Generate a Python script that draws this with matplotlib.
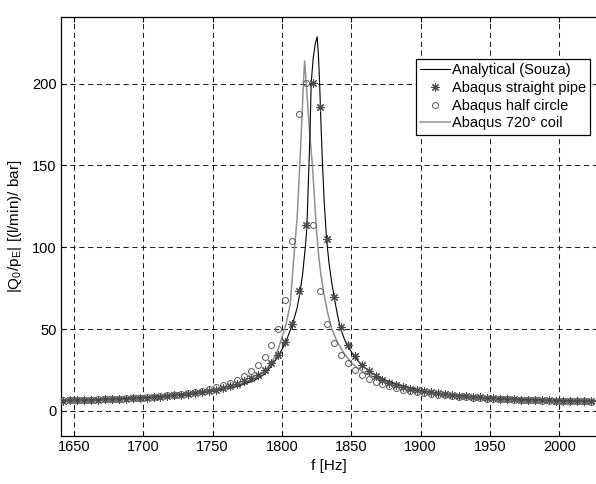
import matplotlib
matplotlib.use("Agg")
import matplotlib.pyplot as plt
from matplotlib.lines import Line2D

plt.rcParams['font.family'] = ['Liberation Sans', 'DejaVu Sans']
plt.rcParams['mathtext.fontset'] = 'custom'
plt.rcParams['mathtext.rm'] = 'Liberation Sans'

# Analytical (Souza) curve
f_ana = [1640, 1660, 1680, 1700, 1720, 1740, 1750, 1760, 1770, 1780, 1787.5,
         1792.5, 1797.5, 1802.5, 1807.5, 1811, 1813, 1815, 1817, 1818,
         1819.5, 1820.3, 1821.1, 1822.5, 1824, 1825.4, 1826.3, 1827.2,
         1828.2, 1829.3, 1830.5, 1832.2, 1834, 1836, 1838, 1840, 1842,
         1845, 1848, 1852, 1857.5, 1865, 1875, 1885, 1900, 1920, 1940,
         1960, 1980, 2000, 2027]
v_ana = [6.3, 6.7, 7.3, 8.0, 9.2, 10.8, 12.0, 13.6, 15.6, 18.6, 22.5,
         27.5, 33.5, 41.5, 52.5, 63, 72, 84, 101, 112,
         150, 170, 200, 215, 224, 228.6, 218, 200,
         175, 150, 128, 105, 90, 78, 68, 59, 51,
         44, 39, 33.5, 28, 23, 18.8, 15.8, 12.5, 10.0, 8.5,
         7.5, 6.9, 6.4, 6.0]

# Abaqus 720 deg coil curve
f_coil = [1640, 1660, 1680, 1700, 1720, 1740, 1750, 1760, 1770, 1780, 1785,
          1790, 1795, 1797.5, 1800, 1803, 1806, 1809.2, 1811, 1812.9,
          1814.5, 1815.5, 1816.4, 1817.6, 1819, 1820.5, 1822, 1823.5,
          1825, 1826.5, 1828, 1830, 1833, 1836, 1840, 1845, 1850, 1855,
          1860, 1870, 1880, 1890, 1900, 1920, 1940, 1960, 1980, 2000, 2027]
v_coil = [6.4, 6.9, 7.5, 8.3, 9.6, 11.4, 12.6, 14.2, 16.4, 19.8, 22.5,
          26.5, 33, 38, 45, 53, 65, 100, 118, 150,
          180, 200, 213.9, 200, 182, 165, 150, 130,
          110, 95, 84, 73, 60, 50, 42, 35, 29.5, 26,
          23.2, 19.2, 16.3, 14.2, 12.6, 10.2, 8.7, 7.7, 7.0, 6.5, 6.1]

# Abaqus markers, every 5 Hz
f_mark = [1642.5 + 5 * i for i in range(77)]
v_straight = [6.3, 6.4, 6.5, 6.6, 6.7, 6.8, 7.0, 7.1, 7.3, 7.5,
              7.7, 7.9, 8.2, 8.5, 8.8, 9.1, 9.5, 9.9, 10.4, 10.9,
              11.5, 12.2, 13.0, 14.0, 15.1, 16.6, 18.2, 20.0, 22.0, 25.0,
              29.2, 34.3, 42.0, 53.0, 73.5, 113.6, 200.4, 185.7, 105.0, 69.6,
              51.0, 40.0, 33.4, 28.2, 24.4, 21.5, 19.2, 17.3, 15.9, 14.7,
              13.7, 12.8, 12.0, 11.3, 10.7, 10.2, 9.7, 9.3, 8.9, 8.6,
              8.3, 8.0, 7.7, 7.5, 7.3, 7.1, 6.9, 6.8, 6.6, 6.5,
              6.4, 6.3, 6.2, 6.1, 6.0, 5.9, 5.8]
v_half = [6.4, 6.5, 6.6, 6.7, 6.8, 7.0, 7.1, 7.3, 7.5, 7.7,
          7.9, 8.2, 8.5, 8.8, 9.2, 9.6, 10.0, 10.5, 11.1, 11.7,
          12.4, 13.3, 14.4, 15.7, 17.2, 19.2, 21.5, 24.5, 28.2, 33.0,
          40.0, 50.2, 68.0, 103.8, 181.6, 200.4, 113.6, 73.0, 53.3, 41.8,
          34.3, 29.2, 25.1, 22.0, 19.8, 17.9, 16.4, 15.1, 14.0, 13.1,
          12.3, 11.6, 11.0, 10.4, 9.9, 9.5, 9.1, 8.7, 8.4, 8.1,
          7.8, 7.6, 7.3, 7.1, 7.0, 6.8, 6.6, 6.5, 6.4, 6.3,
          6.2, 6.1, 6.0, 5.9, 5.9, 5.8, 5.7]

xticks = [1650, 1700, 1750, 1800, 1850, 1900, 1950, 2000]
yticks = [0, 50, 100, 150, 200]

fig = plt.figure(figsize=(5.96, 4.84), dpi=100)
ax = fig.add_axes([61 / 596, 48.5 / 484, 535 / 596, 419 / 484])

ax.plot(f_coil, v_coil, color='#909090', lw=1.1, zorder=3)
ax.plot(f_ana, v_ana, color='black', lw=0.8, zorder=4)
ax.plot(f_mark, v_straight, ls='none', marker=(8, 2, 0), ms=6,
        mec='#4a4a4a', mew=0.8, zorder=5)
ax.plot(f_mark, v_half, ls='none', marker='o', ms=4.3, mfc='none',
        mec='#5a5a5a', mew=0.7, zorder=5)

ax.set_xlim(1640.8, 2026.4)
ax.set_ylim(-15, 241)
ax.set_xticks(xticks)
ax.set_yticks(yticks)
ax.grid(True, color='#222222', ls=(0, (5, 3.5)), lw=0.75)
ax.tick_params(direction='in', length=3.5, labelsize=10.5, top=True,
               right=False, pad=3)
ax.spines['right'].set_visible(False)
for s in ['left', 'top', 'bottom']:
    ax.spines[s].set_linewidth(0.9)

ax.set_xlabel('f [Hz]', fontsize=11, labelpad=4)
ax.set_ylabel(r'|Q$_{\mathregular{0}}$/p$_{\mathregular{E}}$| [(l/min)/ bar]',
              fontsize=11, labelpad=6)

handles = [
    Line2D([], [], color='black', lw=0.8),
    Line2D([], [], ls='none', marker=(8, 2, 0), ms=6, mec='#4a4a4a', mew=0.8),
    Line2D([], [], ls='none', marker='o', ms=4.3, mfc='none', mec='#5a5a5a', mew=0.7),
    Line2D([], [], color='#909090', lw=1.1),
]
labels = ['Analytical (Souza)', 'Abaqus straight pipe', 'Abaqus half circle',
          'Abaqus 720\u00b0 coil']
leg = ax.legend(handles, labels, loc='upper left',
                bbox_to_anchor=(416 / 596, 1 - 59 / 484),
                bbox_transform=fig.transFigure, borderaxespad=0,
                fontsize=10.5, handlelength=2.0, handletextpad=0.15,
                labelspacing=0.25, borderpad=0.3, fancybox=False,
                framealpha=1, edgecolor='black')
leg.get_frame().set_linewidth(0.9)

fig.savefig('out.png', dpi=100)
